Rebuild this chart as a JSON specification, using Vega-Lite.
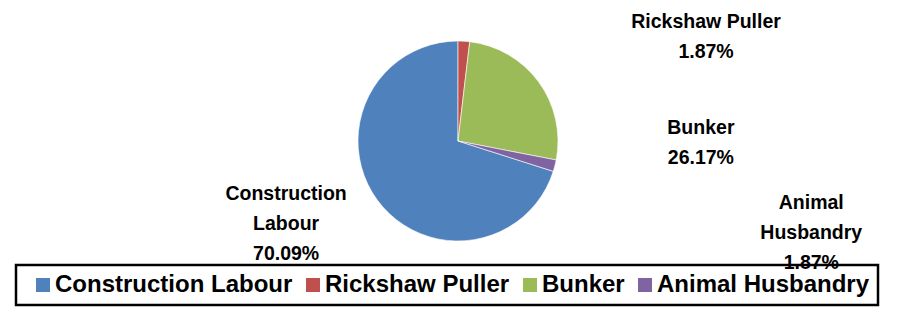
{
  "$schema": "https://vega.github.io/schema/vega-lite/v6.json",
  "width": 882,
  "height": 282,
  "autosize": {"type": "none"},
  "padding": {"left": 17, "top": 0, "right": 0, "bottom": 32},
  "background": "white",
  "data": {
    "values": [
      {"occupation": "Construction Labour", "pct": 70.09, "order": 4, "label": "Construction\nLabour\n70.09%"},
      {"occupation": "Rickshaw Puller", "pct": 1.87, "order": 1, "label": "Rickshaw Puller\n1.87%"},
      {"occupation": "Bunker", "pct": 26.17, "order": 2, "label": "Bunker\n26.17%"},
      {"occupation": "Animal Husbandry", "pct": 1.87, "order": 3, "label": "Animal\nHusbandry\n1.87%"}
    ]
  },
  "encoding": {
    "theta": {"field": "pct", "type": "quantitative", "stack": true},
    "order": {"field": "order", "type": "quantitative"}
  },
  "layer": [
    {
      "mark": {"type": "arc", "outerRadius": 100, "stroke": "white", "strokeWidth": 0.6},
      "encoding": {
        "color": {
          "field": "occupation",
          "type": "nominal",
          "scale": {
            "domain": ["Construction Labour", "Rickshaw Puller", "Bunker", "Animal Husbandry"],
            "range": ["#4F81BD", "#C0504D", "#9BBB59", "#8064A2"]
          },
          "legend": {
            "title": " ",
            "titleOrient": "left",
            "titleFontSize": 10,
            "titlePadding": 7,
            "orient": "none",
            "legendX": -1,
            "legendY": 265,
            "direction": "horizontal",
            "columns": 4,
            "symbolType": "square",
            "symbolSize": 196,
            "symbolStrokeWidth": 0,
            "labelOffset": 0,
            "columnPadding": 8,
            "labelFont": "Liberation Sans",
            "labelFontWeight": "bold",
            "labelFontSize": 24,
            "labelColor": "black",
            "labelLimit": 0,
            "padding": 8,
            "strokeColor": "black"
          }
        }
      }
    },
    {
      "mark": {"type": "text", "radius": 120, "dx": 241, "dy": 1, "font": "Liberation Sans", "fontWeight": "bold", "fontSize": 19.5, "lineHeight": 30, "align": "center", "baseline": "middle", "lineBreak": "\n", "color": "black"},
      "encoding": {"text": {"condition": {"test": "datum.occupation === 'Rickshaw Puller'", "field": "label"}, "value": ""}}
    },
    {
      "mark": {"type": "text", "radius": 120, "dx": 146, "dy": 58, "font": "Liberation Sans", "fontWeight": "bold", "fontSize": 19.5, "lineHeight": 30, "align": "center", "baseline": "middle", "lineBreak": "\n", "color": "black"},
      "encoding": {"text": {"condition": {"test": "datum.occupation === 'Bunker'", "field": "label"}, "value": ""}}
    },
    {
      "mark": {"type": "text", "radius": 120, "dx": 237, "dy": 32, "font": "Liberation Sans", "fontWeight": "bold", "fontSize": 19.5, "lineHeight": 30, "align": "center", "baseline": "middle", "lineBreak": "\n", "color": "black"},
      "encoding": {"text": {"condition": {"test": "datum.occupation === 'Animal Husbandry'", "field": "label"}, "value": ""}}
    },
    {
      "mark": {"type": "text", "radius": 120, "dx": -75, "dy": -18, "font": "Liberation Sans", "fontWeight": "bold", "fontSize": 19.5, "lineHeight": 30, "align": "center", "baseline": "middle", "lineBreak": "\n", "color": "black"},
      "encoding": {"text": {"condition": {"test": "datum.occupation === 'Construction Labour'", "field": "label"}, "value": ""}}
    }
  ],
  "config": {"view": {"stroke": null}, "legend": {"strokeWidth": 2.5}}
}
